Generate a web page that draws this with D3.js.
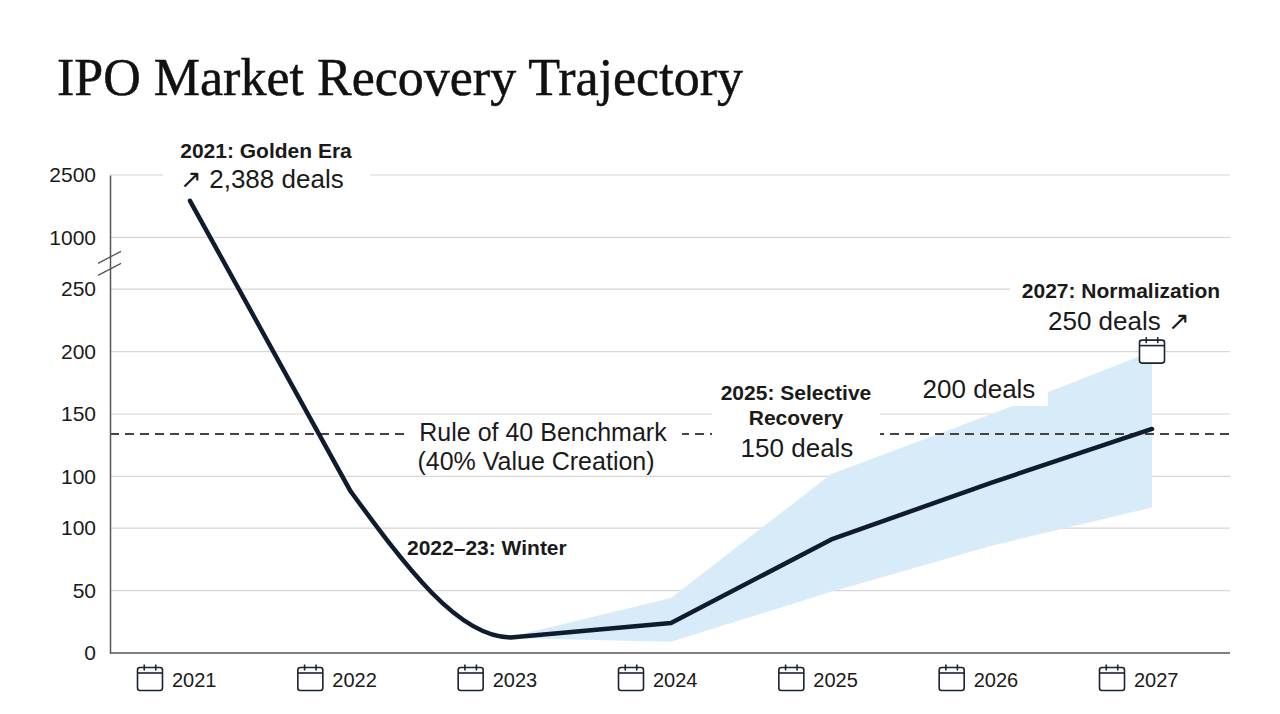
<!DOCTYPE html>
<html>
<head>
<meta charset="utf-8">
<script src="https://cdn.jsdelivr.net/npm/d3@7"></script>
<style>
  body { margin: 0; background: #fff; }
  text { font-family: "Liberation Sans", Arial, sans-serif; fill: #1a1a1a; }
  .title { font-family: "Liberation Serif", "Times New Roman", serif; fill: #111; }
  .grid line { stroke: #d6d6d6; stroke-width: 1.2; }
  .bold { font-weight: bold; }
</style>
</head>
<body>
<svg id="chart" width="1280" height="714"></svg>
<script>
// data
var years = [2021, 2022, 2023, 2024, 2025, 2026, 2027];
var deals = [1880, 118, 12.5, 24, 91, 122, 144];
var bandYears = [2023, 2024, 2025, 2026, 2027];
var bandLow = [12, 9, 49, 86, 110];
var bandHigh = [13, 44, 126, 150, 200];
var benchmark = 142;
// broken axis: two ticks are labelled "100" in the original
var yTickValues = [0, 50, 100, 125, 150, 200, 250, 1000, 2500];
var yTickLabels = ["0", "50", "100", "100", "150", "200", "250", "1000", "2500"];

var svg = d3.select("#chart");
var plotLeft = 110, plotRight = 1230, plotBottom = 653, plotTop = 175;

svg.append("text").attr("class", "title")
	.attr("x", 57).attr("y", 95)
	.attr("font-size", 52)
	.attr("stroke", "#111").attr("stroke-width", 0.5)
	.text("IPO Market Recovery Trajectory");

var x = d3.scalePoint().domain(years).range([190, 1152]);

// piecewise scale, the steps across the axis break and the doubled 100 are shorter
var stepW = [1, 1, 0.83, 1, 1, 1, 0.83, 1];
var acc = [0];
stepW.forEach(function(w){ acc.push(acc[acc.length - 1] + w); });
var slot = d3.scaleLinear().domain([0, acc[acc.length - 1]]).range([plotBottom, plotTop]);
var y = d3.scaleLinear().domain(yTickValues).range(acc.map(function(a){ return slot(a); }));

// grid
var grid = svg.append("g").attr("class", "grid");
grid.selectAll("line").data(yTickValues.slice(1)).enter().append("line")
	.attr("x1", plotLeft).attr("x2", plotRight)
	.attr("y1", function(d){ return y(d); })
	.attr("y2", function(d){ return y(d); });

// band
var band = bandYears.map(function(yr, i){ return {yr: yr, lo: bandLow[i], hi: bandHigh[i]}; });
svg.append("path").datum(band)
	.attr("fill", "#d8ebf9")
	.attr("d", d3.area()
		.x(function(d){ return x(d.yr); })
		.y0(function(d){ return y(d.lo); })
		.y1(function(d){ return y(d.hi); }));

// benchmark
svg.append("line")
	.attr("x1", plotLeft).attr("x2", plotRight)
	.attr("y1", y(benchmark)).attr("y2", y(benchmark))
	.attr("stroke", "#444").attr("stroke-width", 2)
	.attr("stroke-dasharray", "9,6");

// axes
var yAxis = svg.append("g").attr("transform", "translate(" + plotLeft + ",0)")
	.call(d3.axisLeft(y).tickValues(yTickValues).tickSize(0).tickPadding(14)
		.tickFormat(function(d, i){ return yTickLabels[i]; }));
yAxis.select(".domain").attr("stroke", "#555").attr("stroke-width", 1.5);
yAxis.selectAll("text").attr("font-size", 21).attr("fill", "#222");

svg.append("line")
	.attr("x1", plotLeft).attr("x2", plotRight).attr("y1", plotBottom).attr("y2", plotBottom)
	.attr("stroke", "#555").attr("stroke-width", 1.5);

// axis break marks
var bk = (y(250) + y(1000)) / 2;
[-6, 6].forEach(function(o){
	svg.append("line")
		.attr("x1", plotLeft - 12).attr("y1", bk + o + 6)
		.attr("x2", plotLeft + 11).attr("y2", bk + o - 6)
		.attr("stroke", "#555").attr("stroke-width", 1.3);
});

function calendar(g, cx, cy){
	var w = 25, h = 23;
	var c = g.append("g").attr("transform", "translate(" + (cx - w / 2) + "," + (cy - h / 2) + ")");
	c.append("rect").attr("width", w).attr("height", h).attr("rx", 2.5)
		.attr("fill", "#fff").attr("stroke", "#1b2433").attr("stroke-width", 1.6);
	c.append("line").attr("x1", 0).attr("x2", w).attr("y1", 5.5).attr("y2", 5.5)
		.attr("stroke", "#1b2433").attr("stroke-width", 1.6);
	[w * 0.27, w * 0.73].forEach(function(t){
		c.append("line").attr("x1", t).attr("x2", t).attr("y1", -3).attr("y2", 3)
			.attr("stroke", "#1b2433").attr("stroke-width", 1.6);
	});
}

// x labels
var xl = svg.append("g");
years.forEach(function(yr){
	calendar(xl, x(yr) - 40, 679);
	xl.append("text").attr("x", x(yr) - 18).attr("y", 687)
		.attr("font-size", 20).attr("fill", "#222").text(yr);
});

// annotation boxes (white) and text
function box(x0, y0, x1, y1){
	svg.append("rect").attr("x", x0).attr("y", y0)
		.attr("width", x1 - x0).attr("height", y1 - y0).attr("fill", "#fff");
}
function label(tx, ty, s, size, bold, anchor){
	svg.append("text").attr("x", tx).attr("y", ty)
		.attr("font-size", size).attr("class", bold ? "bold" : null)
		.attr("text-anchor", anchor || "middle").text(s);
}

box(163, 140, 370, 196);
label(266, 158, "2021: Golden Era", 21, true);
label(180, 188, "\u2197 2,388 deals", 26, false, "start");

box(407, 418, 682, 474);
label(543, 441, "Rule of 40 Benchmark", 25, false);
label(536, 470, "(40% Value Creation)", 25, false);

label(407, 555, "2022\u201323: Winter", 21, true, "start");

box(712, 378, 880, 455);
label(796, 400, "2025: Selective", 21, true);
label(796, 425, "Recovery", 21, true);
label(797, 457, "150 deals", 26, false);

box(910, 370, 1048, 406);
label(979, 398, "200 deals", 26, false);

box(1010, 276, 1232, 338);
label(1121, 298, "2027: Normalization", 21, true);
label(1048, 330, "250 deals \u2197", 26, false, "start");

// main line: straight into 2022, a monotone bend down to 2023, straight after
var pts = years.map(function(yr, i){ return [x(yr), y(deals[i])]; });
var bend = d3.line().curve(d3.curveMonotoneX)(pts.slice(0, 4)).split("C");
var d = "M" + pts[0] + "L" + pts[1] + "C" + bend[2];
pts.slice(3).forEach(function(p){ d += "L" + p; });
svg.append("path")
	.attr("fill", "none").attr("stroke", "#0f1c2e").attr("stroke-width", 4.5)
	.attr("stroke-linejoin", "round").attr("stroke-linecap", "round")
	.attr("d", d);

// marker on the upper band end
calendar(svg, x(2027), y(bandHigh[bandHigh.length - 1]));
</script>
</body>
</html>
